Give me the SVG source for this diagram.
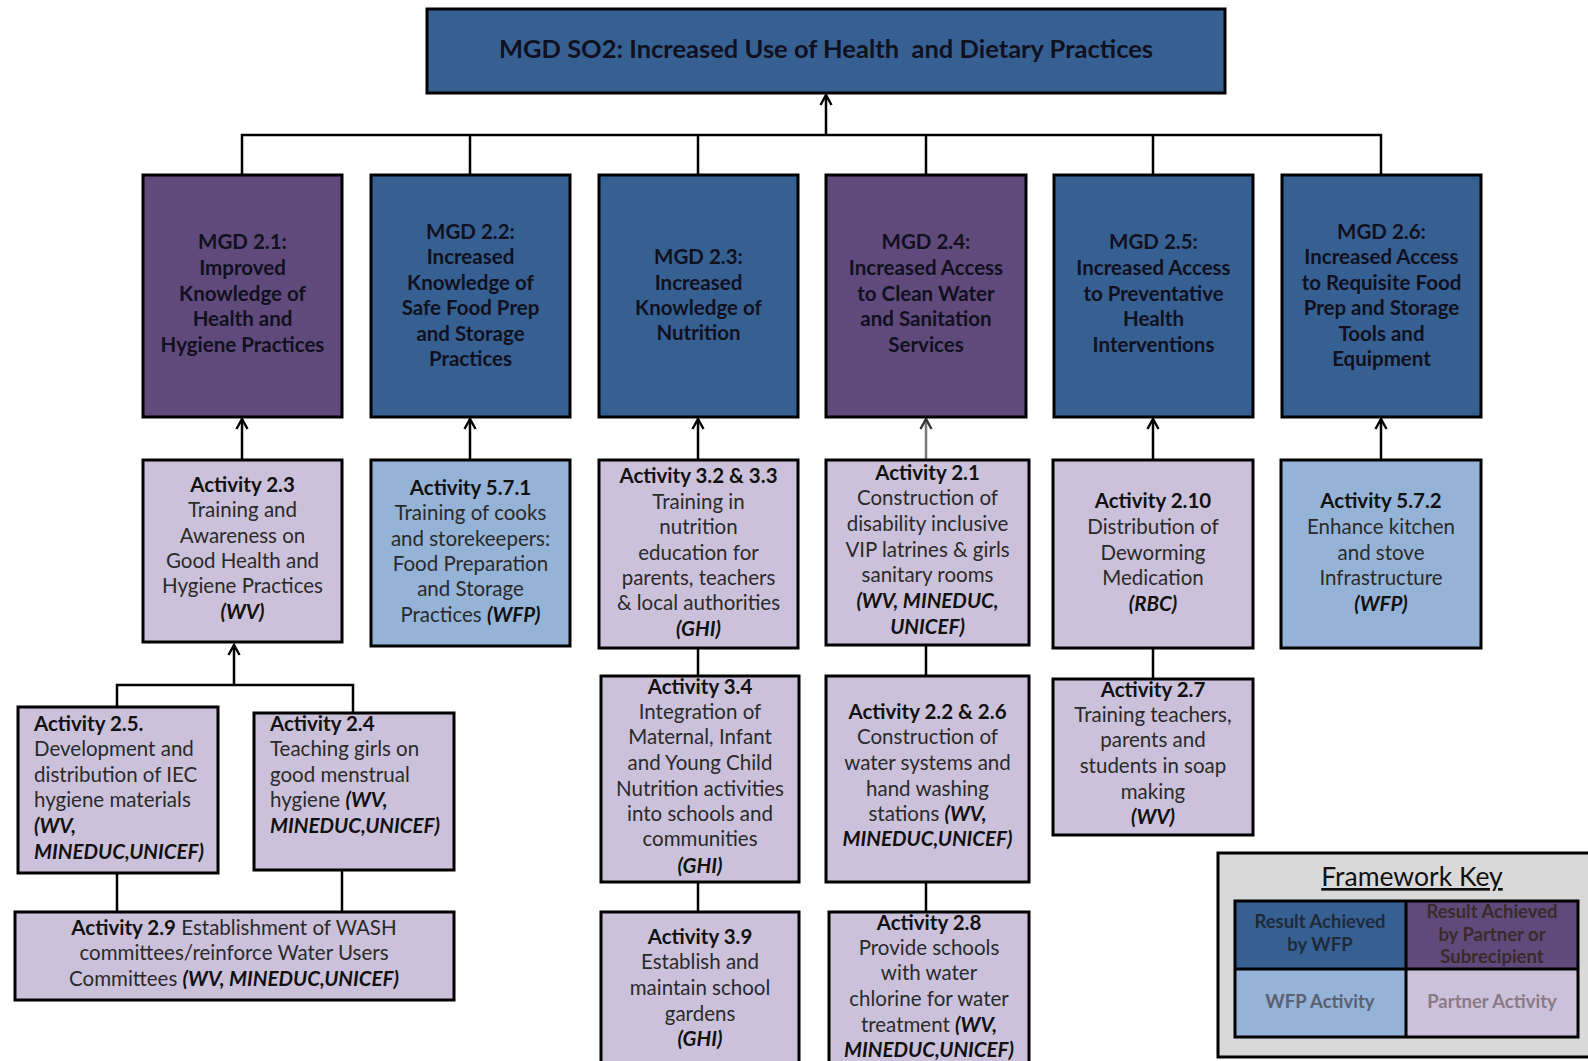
<svg xmlns="http://www.w3.org/2000/svg" width="1588" height="1061" viewBox="0 0 1588 1061">
<defs>
<style>
.box{stroke:#000;stroke-width:3}
.db{fill:#376092}
.pu{fill:#604a7b}
.lb{fill:#95b3d7}
.lv{fill:#ccc1da}
.t{font-family:Lato,"Liberation Sans",sans-serif;font-size:20.5px;fill:#2a2a2a;text-anchor:middle}
.m{font-family:Lato,"Liberation Sans",sans-serif;font-size:20.5px;font-weight:bold;fill:#10101e;text-anchor:middle}
.l{text-anchor:start}
.b{font-weight:bold;fill:#111}
.bi{font-weight:bold;font-style:italic;fill:#111}
.c{fill:none;stroke:#000;stroke-width:2.5}
.k{font-family:Lato,"Liberation Sans",sans-serif;font-size:18.5px;font-weight:bold;text-anchor:middle}
</style>
<marker id="arr" markerUnits="userSpaceOnUse" viewBox="-11 -7 13 14" refX="0" refY="0" markerWidth="13" markerHeight="14" orient="auto">
<path d="M-10,-5.5 L0,0 L-10,5.5" fill="none" stroke="#000" stroke-width="2.4"/>
</marker>
<marker id="arrg" markerUnits="userSpaceOnUse" viewBox="-11 -7 13 14" refX="0" refY="0" markerWidth="13" markerHeight="14" orient="auto">
<path d="M-10,-5.5 L0,0 L-10,5.5" fill="none" stroke="#333" stroke-width="2.4"/>
</marker>
</defs>
<rect width="1588" height="1061" fill="#fff"/>

<g id="connectors">
<line class="c" x1="826" y1="135" x2="826" y2="95" marker-end="url(#arr)"/>
<path class="c" d="M242,175 V135 H1381 V175 M470,135 V175 M698,135 V175 M926,135 V175 M1153,135 V175"/>
<line class="c" x1="242" y1="460" x2="242" y2="419" marker-end="url(#arr)"/>
<line class="c" x1="470" y1="460" x2="470" y2="419" marker-end="url(#arr)"/>
<line class="c" x1="698" y1="460" x2="698" y2="419" marker-end="url(#arr)"/>
<line class="c" x1="926" y1="460" x2="926" y2="419" marker-end="url(#arrg)" style="stroke:#777"/>
<line class="c" x1="1153" y1="460" x2="1153" y2="419" marker-end="url(#arr)"/>
<line class="c" x1="1381" y1="460" x2="1381" y2="419" marker-end="url(#arr)"/>
<line class="c" x1="234" y1="685" x2="234" y2="645" marker-end="url(#arr)"/>
<path class="c" d="M117,707 V685 H353 V713"/>
<path class="c" d="M117,873 V912 M342,870 V912"/>
<path class="c" d="M698,648 V676 M698,882 V912"/>
<path class="c" d="M926,645 V676 M926,882 V912"/>
<path class="c" d="M1153,648 V679"/>
</g>

<g id="goal">
<rect class="box db" x="427" y="9" width="798" height="84"/>
<text class="m" x="826" y="58" style="font-size:25.5px;white-space:pre">MGD SO2: Increased Use of Health  and Dietary Practices</text>
</g>

<g id="mgd21">
<rect class="box pu" x="143" y="175" width="199" height="242"/>
<text class="m"><tspan x="242.5" y="249">MGD 2.1:</tspan><tspan x="242.5" y="275">Improved</tspan><tspan x="242.5" y="301">Knowledge of</tspan><tspan x="242.5" y="326">Health and</tspan><tspan x="242.5" y="352">Hygiene Practices</tspan></text>
</g>
<g id="mgd22">
<rect class="box db" x="371" y="175" width="199" height="242"/>
<text class="m"><tspan x="470.5" y="239">MGD 2.2:</tspan><tspan x="470.5" y="264">Increased</tspan><tspan x="470.5" y="290">Knowledge of</tspan><tspan x="470.5" y="315">Safe Food Prep</tspan><tspan x="470.5" y="341">and Storage</tspan><tspan x="470.5" y="366">Practices</tspan></text>
</g>
<g id="mgd23">
<rect class="box db" x="599" y="175" width="199" height="242"/>
<text class="m"><tspan x="698.5" y="264">MGD 2.3:</tspan><tspan x="698.5" y="290">Increased</tspan><tspan x="698.5" y="315">Knowledge of</tspan><tspan x="698.5" y="340">Nutrition</tspan></text>
</g>
<g id="mgd24">
<rect class="box pu" x="826" y="175" width="200" height="242"/>
<text class="m"><tspan x="926" y="249">MGD 2.4:</tspan><tspan x="926" y="275">Increased Access</tspan><tspan x="926" y="301">to Clean Water</tspan><tspan x="926" y="326">and Sanitation</tspan><tspan x="926" y="352">Services</tspan></text>
</g>
<g id="mgd25">
<rect class="box db" x="1054" y="175" width="199" height="242"/>
<text class="m"><tspan x="1153.5" y="249">MGD 2.5:</tspan><tspan x="1153.5" y="275">Increased Access</tspan><tspan x="1153.5" y="301">to Preventative</tspan><tspan x="1153.5" y="326">Health</tspan><tspan x="1153.5" y="352">Interventions</tspan></text>
</g>
<g id="mgd26">
<rect class="box db" x="1282" y="175" width="199" height="242"/>
<text class="m"><tspan x="1381.5" y="239">MGD 2.6:</tspan><tspan x="1381.5" y="264">Increased Access</tspan><tspan x="1381.5" y="290">to Requisite Food</tspan><tspan x="1381.5" y="315">Prep and Storage</tspan><tspan x="1381.5" y="341">Tools and</tspan><tspan x="1381.5" y="366">Equipment</tspan></text>
</g>

<g id="act23">
<rect class="box lv" x="143" y="460" width="199" height="182"/>
<text class="t"><tspan x="242.5" y="492" class="b">Activity 2.3</tspan><tspan x="242.5" y="517">Training and</tspan><tspan x="242.5" y="543">Awareness on</tspan><tspan x="242.5" y="568">Good Health and</tspan><tspan x="242.5" y="593">Hygiene Practices</tspan><tspan x="242.5" y="619" class="bi">(WV)</tspan></text>
</g>
<g id="act571">
<rect class="box lb" x="371" y="460" width="199" height="186"/>
<text class="t"><tspan x="470.5" y="495" class="b">Activity 5.7.1</tspan><tspan x="470.5" y="520">Training of cooks</tspan><tspan x="470.5" y="546">and storekeepers:</tspan><tspan x="470.5" y="571">Food Preparation</tspan><tspan x="470.5" y="596">and Storage</tspan><tspan x="470.5" y="622">Practices <tspan class="bi">(WFP)</tspan></tspan></text>
</g>
<g id="act323">
<rect class="box lv" x="599" y="460" width="199" height="188"/>
<text class="t"><tspan x="698.5" y="483" class="b">Activity 3.2 &amp; 3.3</tspan><tspan x="698.5" y="509">Training in</tspan><tspan x="698.5" y="534">nutrition</tspan><tspan x="698.5" y="560">education for</tspan><tspan x="698.5" y="585">parents, teachers</tspan><tspan x="698.5" y="610">&amp; local authorities</tspan><tspan x="698.5" y="636" class="bi">(GHI)</tspan></text>
</g>
<g id="act21">
<rect class="box lv" x="826" y="460" width="203" height="185"/>
<text class="t"><tspan x="927.5" y="480" class="b">Activity 2.1</tspan><tspan x="927.5" y="505">Construction of</tspan><tspan x="927.5" y="531">disability inclusive</tspan><tspan x="927.5" y="557">VIP latrines &amp; girls</tspan><tspan x="927.5" y="582">sanitary rooms</tspan><tspan x="927.5" y="608" class="bi">(WV, MINEDUC,</tspan><tspan x="927.5" y="634" class="bi">UNICEF)</tspan></text>
</g>
<g id="act210">
<rect class="box lv" x="1053" y="460" width="200" height="188"/>
<text class="t"><tspan x="1153" y="508" class="b">Activity 2.10</tspan><tspan x="1153" y="534">Distribution of</tspan><tspan x="1153" y="560">Deworming</tspan><tspan x="1153" y="585">Medication</tspan><tspan x="1153" y="611" class="bi">(RBC)</tspan></text>
</g>
<g id="act572">
<rect class="box lb" x="1281" y="460" width="200" height="188"/>
<text class="t"><tspan x="1381" y="508" class="b">Activity 5.7.2</tspan><tspan x="1381" y="534">Enhance kitchen</tspan><tspan x="1381" y="560">and stove</tspan><tspan x="1381" y="585">Infrastructure</tspan><tspan x="1381" y="611" class="bi">(WFP)</tspan></text>
</g>

<g id="act25">
<rect class="box lv" x="18" y="707" width="200" height="166"/>
<text class="t l"><tspan x="34" y="731" class="b">Activity 2.5.</tspan><tspan x="34" y="756">Development and</tspan><tspan x="34" y="782">distribution of IEC</tspan><tspan x="34" y="807">hygiene materials</tspan><tspan x="34" y="833" class="bi">(WV,</tspan><tspan x="34" y="859" class="bi">MINEDUC,UNICEF)</tspan></text>
</g>
<g id="act24">
<rect class="box lv" x="254" y="713" width="200" height="157"/>
<text class="t l"><tspan x="270" y="731" class="b">Activity 2.4</tspan><tspan x="270" y="756">Teaching girls on</tspan><tspan x="270" y="782">good menstrual</tspan><tspan x="270" y="807">hygiene <tspan class="bi">(WV,</tspan></tspan><tspan x="270" y="833" class="bi">MINEDUC,UNICEF)</tspan></text>
</g>
<g id="act29">
<rect class="box lv" x="15" y="912" width="439" height="88"/>
<text class="t"><tspan x="234" y="935"><tspan class="b">Activity 2.9</tspan> Establishment of WASH</tspan><tspan x="234" y="960">committees/reinforce Water Users</tspan><tspan x="234" y="986">Committees <tspan class="bi">(WV, MINEDUC,UNICEF)</tspan></tspan></text>
</g>
<g id="act34">
<rect class="box lv" x="601" y="676" width="198" height="206"/>
<text class="t"><tspan x="700" y="694" class="b">Activity 3.4</tspan><tspan x="700" y="719">Integration of</tspan><tspan x="700" y="744">Maternal, Infant</tspan><tspan x="700" y="770">and Young Child</tspan><tspan x="700" y="796">Nutrition activities</tspan><tspan x="700" y="821">into schools and</tspan><tspan x="700" y="846">communities</tspan><tspan x="700" y="873" class="bi">(GHI)</tspan></text>
</g>
<g id="act39">
<rect class="box lv" x="601" y="912" width="198" height="160"/>
<text class="t"><tspan x="700" y="944" class="b">Activity 3.9</tspan><tspan x="700" y="969">Establish and</tspan><tspan x="700" y="995">maintain school</tspan><tspan x="700" y="1021">gardens</tspan><tspan x="700" y="1046" class="bi">(GHI)</tspan></text>
</g>
<g id="act2226">
<rect class="box lv" x="826" y="676" width="203" height="206"/>
<text class="t"><tspan x="927.5" y="719" class="b">Activity 2.2 &amp; 2.6</tspan><tspan x="927.5" y="744">Construction of</tspan><tspan x="927.5" y="770">water systems and</tspan><tspan x="927.5" y="796">hand washing</tspan><tspan x="927.5" y="821">stations <tspan class="bi">(WV,</tspan></tspan><tspan x="927.5" y="846" class="bi">MINEDUC,UNICEF)</tspan></text>
</g>
<g id="act28">
<rect class="box lv" x="829" y="912" width="200" height="160"/>
<text class="t"><tspan x="929" y="930" class="b">Activity 2.8</tspan><tspan x="929" y="955">Provide schools</tspan><tspan x="929" y="980">with water</tspan><tspan x="929" y="1006">chlorine for water</tspan><tspan x="929" y="1032">treatment <tspan class="bi">(WV,</tspan></tspan><tspan x="929" y="1057" class="bi">MINEDUC,UNICEF)</tspan></text>
</g>
<g id="act27">
<rect class="box lv" x="1053" y="679" width="200" height="156"/>
<text class="t"><tspan x="1153" y="697" class="b">Activity 2.7</tspan><tspan x="1153" y="722">Training teachers,</tspan><tspan x="1153" y="747">parents and</tspan><tspan x="1153" y="773">students in soap</tspan><tspan x="1153" y="799">making</tspan><tspan x="1153" y="824" class="bi">(WV)</tspan></text>
</g>

<g id="key">
<rect x="1218" y="853" width="375" height="204" fill="#d9d9d9" stroke="#000" stroke-width="3"/>
<text x="1412" y="886" style="font-family:Lato,'Liberation Sans',sans-serif;font-size:26.5px;text-anchor:middle;text-decoration:underline;fill:#111">Framework Key</text>
<rect class="db" x="1235" y="901" width="171" height="68"/>
<rect class="pu" x="1406" y="901" width="172" height="68"/>
<rect class="lb" x="1235" y="969" width="171" height="68"/>
<rect class="lv" x="1406" y="969" width="172" height="68"/>
<path d="M1235,901 H1578 V1037 H1235 Z M1406,901 V1037 M1235,969 H1578" fill="none" stroke="#000" stroke-width="3"/>
<text class="k" fill="#1e2a3a"><tspan x="1320" y="928">Result Achieved</tspan><tspan x="1320" y="951">by WFP</tspan></text>
<text class="k" fill="#3a2a2a"><tspan x="1492" y="918">Result Achieved</tspan><tspan x="1492" y="941">by Partner or</tspan><tspan x="1492" y="963">Subrecipient</tspan></text>
<text class="k" x="1320" y="1008" fill="#5a6070">WFP Activity</text>
<text class="k" x="1492" y="1008" fill="#8a7a86">Partner Activity</text>
</g>
</svg>
